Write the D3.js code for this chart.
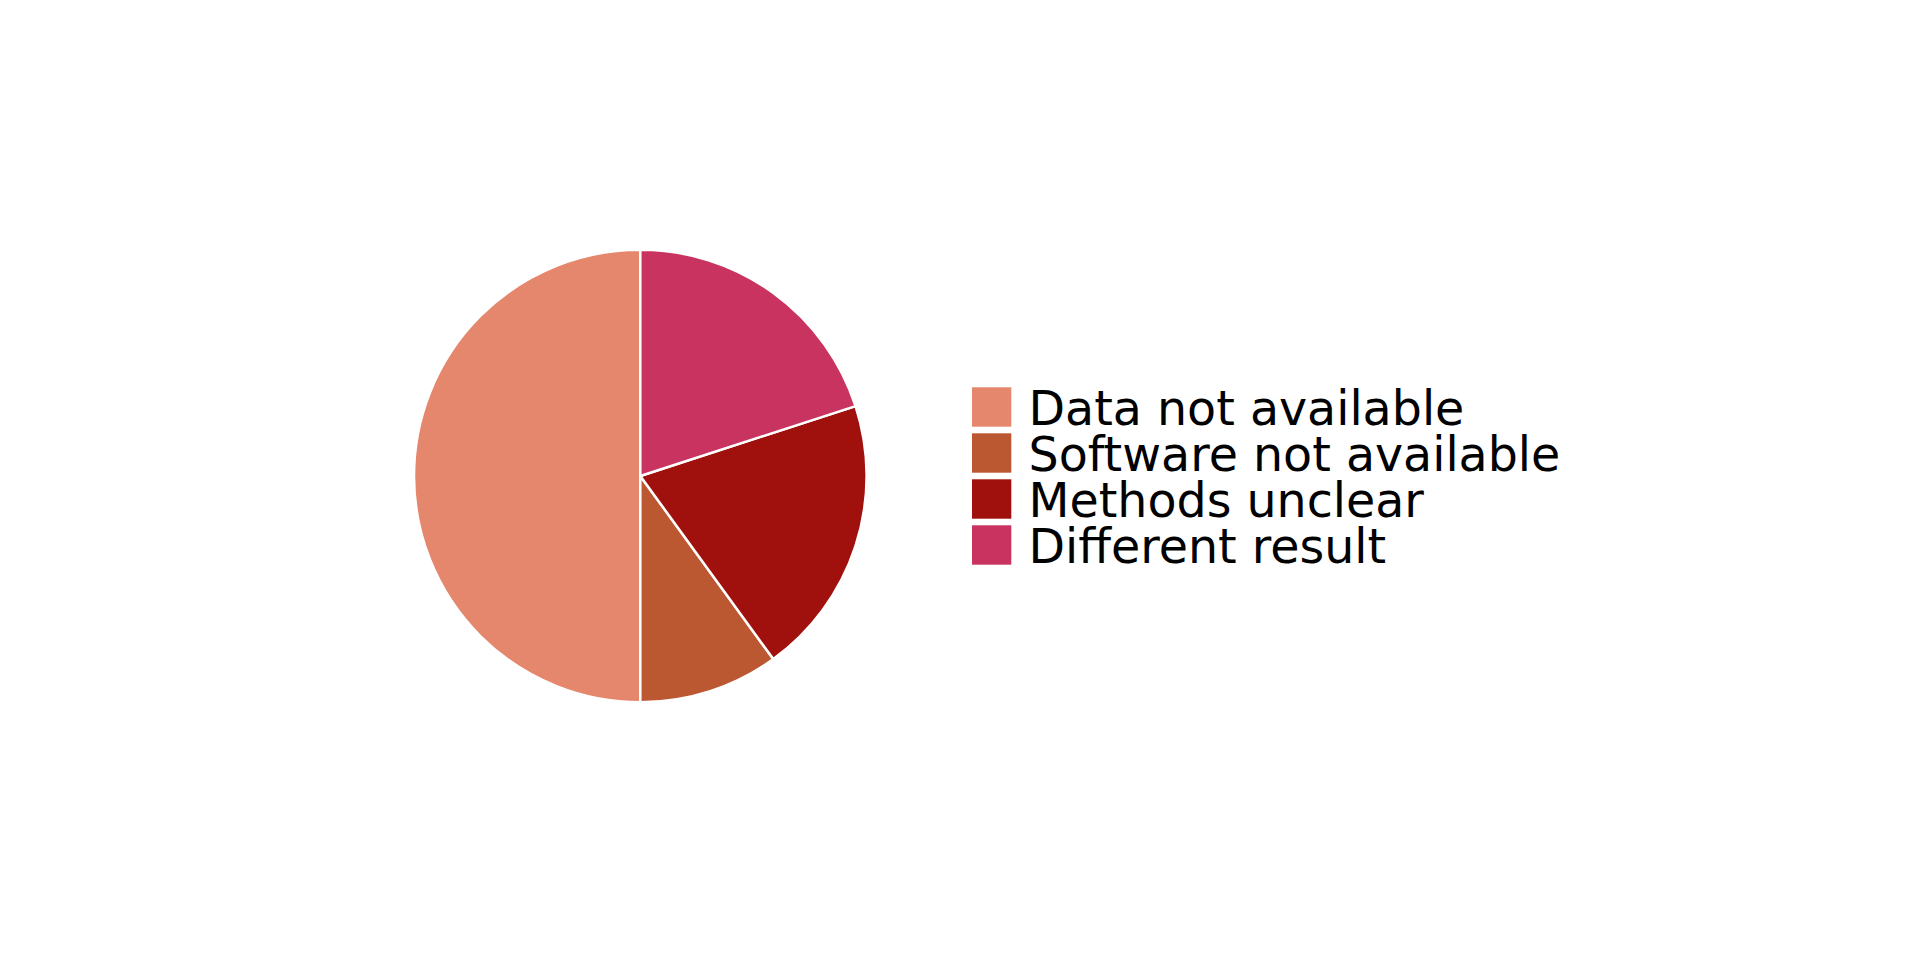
<!DOCTYPE html>
<html><head><meta charset="utf-8">
<script src="https://cdn.jsdelivr.net/npm/d3@7"></script>
<style>html,body{margin:0;padding:0;background:#fff;}</style>
</head><body>
<svg id="chart" width="1920" height="960"></svg>
<script>
const categories = ["Data not available", "Software not available", "Methods unclear", "Different result"];
const values = [50, 10, 20, 20];
const colors = ["#E5876D", "#BB5832", "#A0100C", "#C8335F"];

const svg = d3.select("#chart");
const cx = 640.3, cy = 476, r = 226.3;

const pie = d3.pie().sort(null).value(d => d.v)
  .startAngle(0).endAngle(-2 * Math.PI);
const data = categories.map((c, i) => ({c, v: values[i], col: colors[i]}));
const arc = d3.arc().innerRadius(0).outerRadius(r);

svg.append("g").attr("transform", `translate(${cx},${cy})`)
  .selectAll("path").data(pie(data)).join("path")
  .attr("d", arc)
  .attr("fill", d => d.data.col)
  .attr("stroke", "#fff")
  .attr("stroke-width", 2.5)
  .attr("stroke-linejoin", "round");

const legend = svg.append("g");
const yScale = d3.scaleBand().domain(categories).range([387.3, 387.3 + 46 * 4]);
const rows = legend.selectAll("g").data(data).join("g")
  .attr("transform", d => `translate(972,${yScale(d.c)})`);
rows.append("rect").attr("width", 39.3).attr("height", 39.4)
  .attr("fill", d => d.col);
rows.append("text").attr("x", 56.5).attr("y", 37.7)
  .attr("font-family", "DejaVu Sans").attr("font-size", 47.5)
  .attr("fill", "#000").text(d => d.c);
</script>
</body></html>
